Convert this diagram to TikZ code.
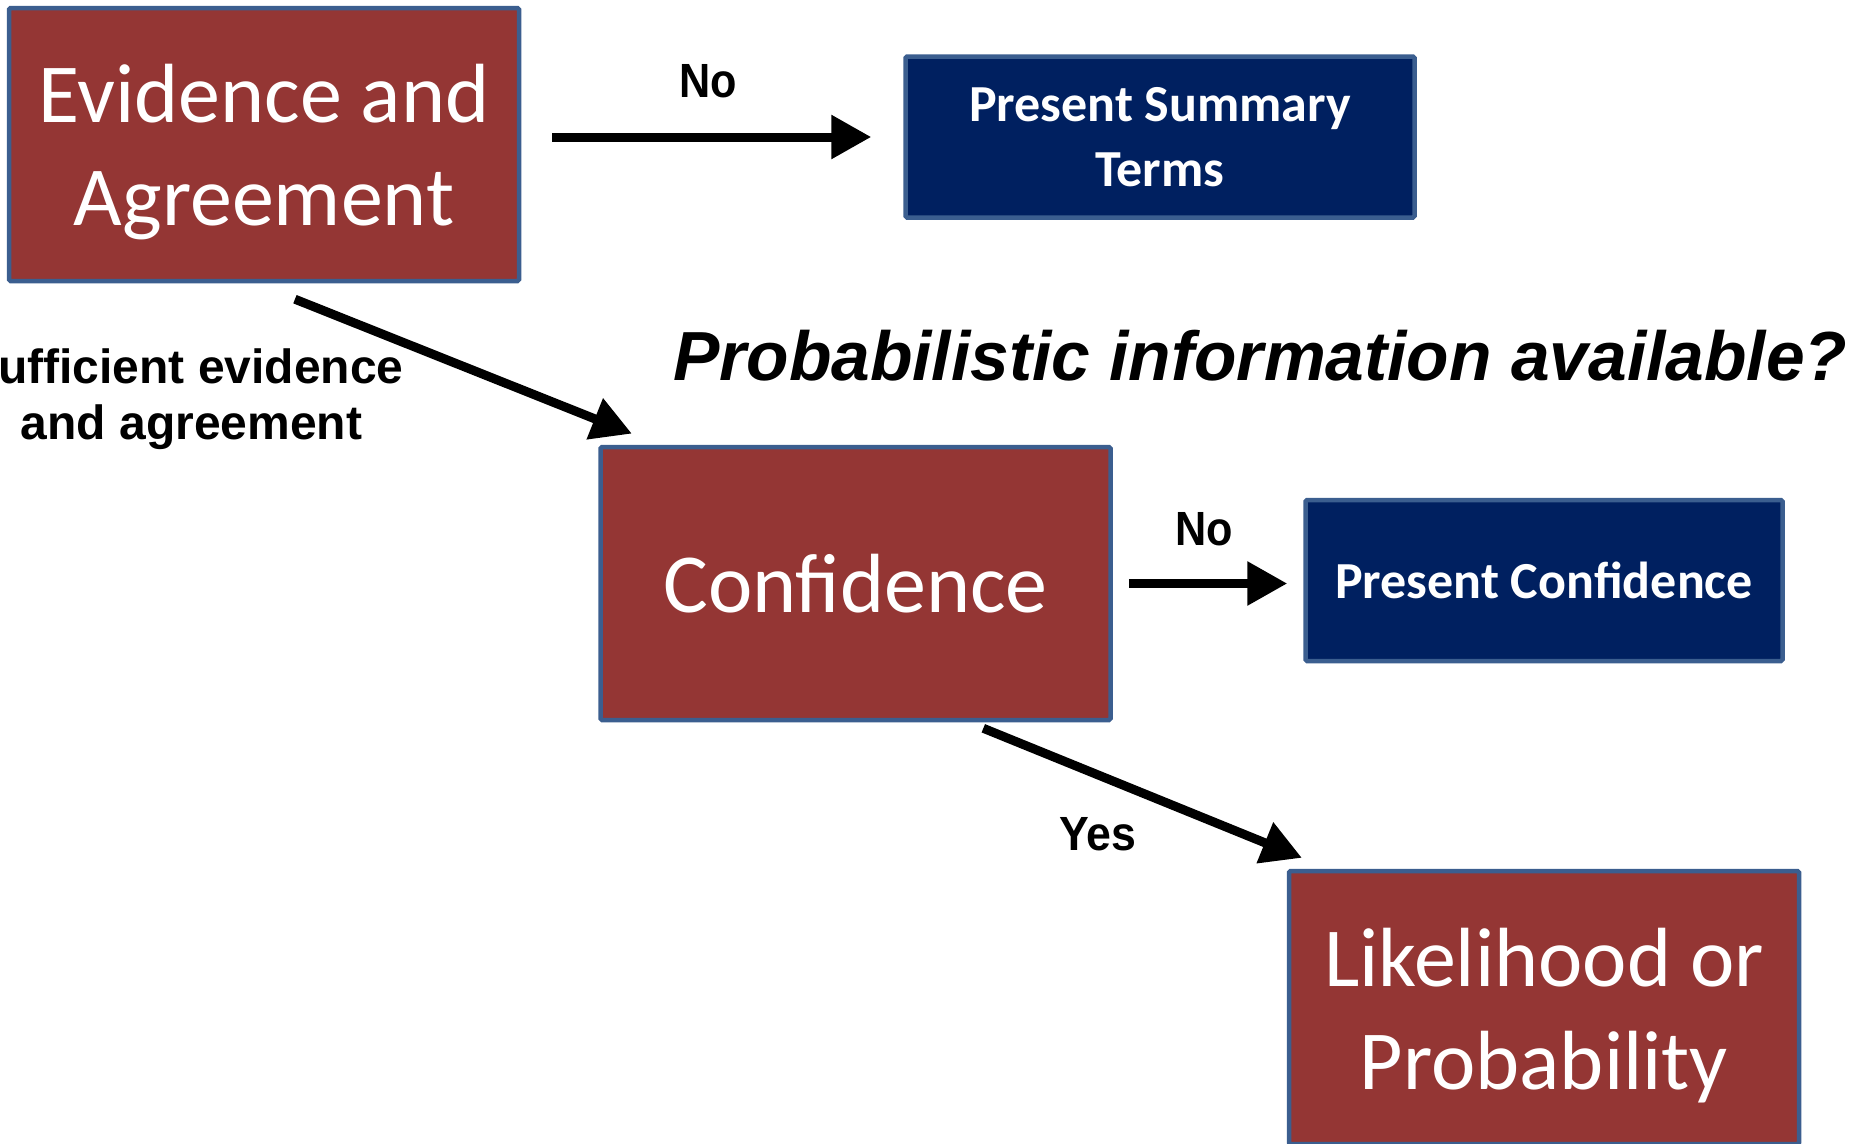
\documentclass[tikz,border=0pt]{standalone}
\usepackage{fontspec}
\setmainfont{Liberation Sans}
\newfontfamily\boxfont{Carlito}
\usetikzlibrary{arrows.meta}
\definecolor{boxred}{HTML}{943634}
\definecolor{boxnavy}{HTML}{002060}
\definecolor{boxedge}{HTML}{3B5E8F}
\newcommand{\lowerstrut}{\rule{0pt}{74pt}}
\begin{document}
\begin{tikzpicture}[x=1pt,y=-1pt,
  redbox/.style={draw=boxedge, line width=4.5pt, fill=boxred, text=white, minimum width=510pt, minimum height=273pt, inner sep=0pt, align=center, font=\boxfont\fontsize{84}{103}\selectfont, rounded corners=1.5pt},
  navybox/.style={draw=boxedge, line width=4.5pt, fill=boxnavy, text=white, minimum height=161pt, inner sep=0pt, align=center, font=\boxfont\bfseries\fontsize{52}{65}\selectfont, rounded corners=1.5pt},
  flow/.style={line width=9pt, -{Triangle[length=40pt,width=42pt]}},
  lbl/.style={font=\bfseries\fontsize{48}{56}\selectfont, inner sep=0pt, align=center}
]
\useasboundingbox (0,0) rectangle (1851,1143);

\node[redbox] (ev) at (264,144.5) {\lowerstrut\smash{Evidence and}\\Agreement};
\node[navybox, minimum width=509pt] (pst) at (1160,137) {Present Summary\\Terms};
\node[redbox] (conf) at (855.5,583.5) {Confidence};
\node[navybox, minimum width=477pt] (pcon) at (1544,580.5) {Present Confidence};
\node[redbox] (like) at (1544,1007.5) {\lowerstrut\smash{Likelihood or}\\Probability};

\node[font=\bfseries\itshape\fontsize{69.5}{80}\selectfont, anchor=base west, inner sep=0pt] (q) at (673,380) {Probabilistic information available?};

\node[lbl, anchor=base] (no1) at (708,97) {\scalebox{0.9}[1]{No}};
\node[lbl, anchor=base] (no2) at (1204,545) {\scalebox{0.9}[1]{No}};
\node[lbl, anchor=base] (yes) at (1098,850) {\scalebox{0.93}[1]{Yes}};
\node[lbl, anchor=north] (ins) at (201,349) {ufficient evidence\\and agreement\hspace*{19pt}};

\draw[flow, shorten <=31pt, shorten >=32pt] (ev.east |- pst.west) -- (pst.west);
\draw[flow, shorten <=43pt, shorten >=30pt] ([xshift=-9pt]ev.south) -- ([xshift=61.5pt]conf.north west);
\draw[flow, shorten <=16pt, shorten >=16pt] (conf.east) -- (conf.east -| pcon.west);
\draw[flow, shorten <=16pt, shorten >=29pt] ([xshift=113pt]conf.south) -- ([xshift=42pt]like.north west);
\end{tikzpicture}
\end{document}
